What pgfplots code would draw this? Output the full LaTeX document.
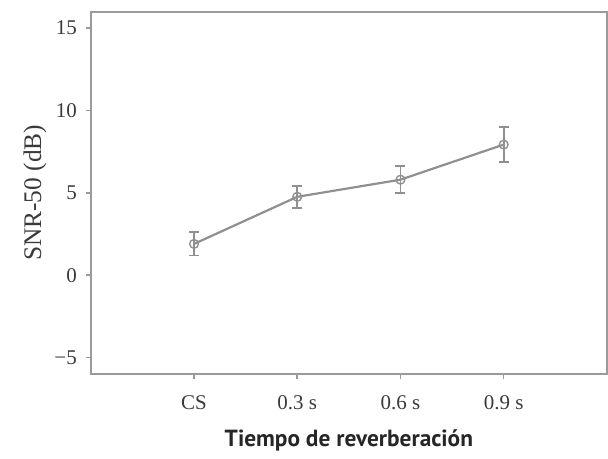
\documentclass[border=0pt]{standalone}
\usepackage{pgfplots}
\pgfplotsset{compat=1.18}
\usepackage{fontspec}
\setmainfont{Liberation Serif}
\newfontfamily\labelfont{PT Sans}
\definecolor{txt}{HTML}{3A3A3A}
\definecolor{ln}{HTML}{909090}
\definecolor{ax}{HTML}{9A9A9A}
\begin{document}
\begin{tikzpicture}
\begin{axis}[
  scale only axis,
  width=258.5pt, height=181.5pt,
  xmin=-1, xmax=4, ymin=-6, ymax=16,
  axis line style={ax, line width=1.1pt},
  xtick={0,1,2,3}, xticklabels={CS,0.3 s,0.6 s,0.9 s},
  ytick={-5,0,5,10,15}, yticklabels={−5,0,5,10,15},
  tick style={ax, line width=0.8pt},
  tick align=outside, major tick length=2.5pt,
  xtick pos=left, ytick pos=left,
  ticklabel style={font=\fontsize{10.5}{12}\selectfont, text=txt},
  xticklabel style={yshift=-5pt},
  yticklabel style={xshift=-1pt},
  ylabel={SNR-50 (dB)},
  ylabel style={font=\fontsize{12.7}{14}\selectfont, text=txt, at={(axis description cs:-0.108,0.5)}, anchor=center},
  xlabel={\labelfont\bfseries Tiempo de reverberación},
  xlabel style={font=\fontsize{11.7}{13}\selectfont, text=black!85, yshift=-3pt},
  clip=false,
]
\addplot[ln, line width=1.1pt, mark=o, mark size=2.2pt,
  mark options={fill=white, line width=0.7pt},
  error bars/.cd, y dir=both, y explicit,
  error bar style={ln, line width=0.9pt},
  error mark options={rotate=90, mark size=2.5pt, ln, line width=0.9pt}]
coordinates {
  (0,1.9) +- (0,0.7)
  (1,4.76) +- (0,0.68)
  (2,5.8) +- (0,0.81)
  (3,7.93) +- (0,1.06)
};
\end{axis}
\path[use as bounding box] ([xshift=-45.5pt,yshift=-37.5pt]current axis.south west) rectangle ([xshift=0.3pt,yshift=5.85pt]current axis.north east);
\end{tikzpicture}
\end{document}
